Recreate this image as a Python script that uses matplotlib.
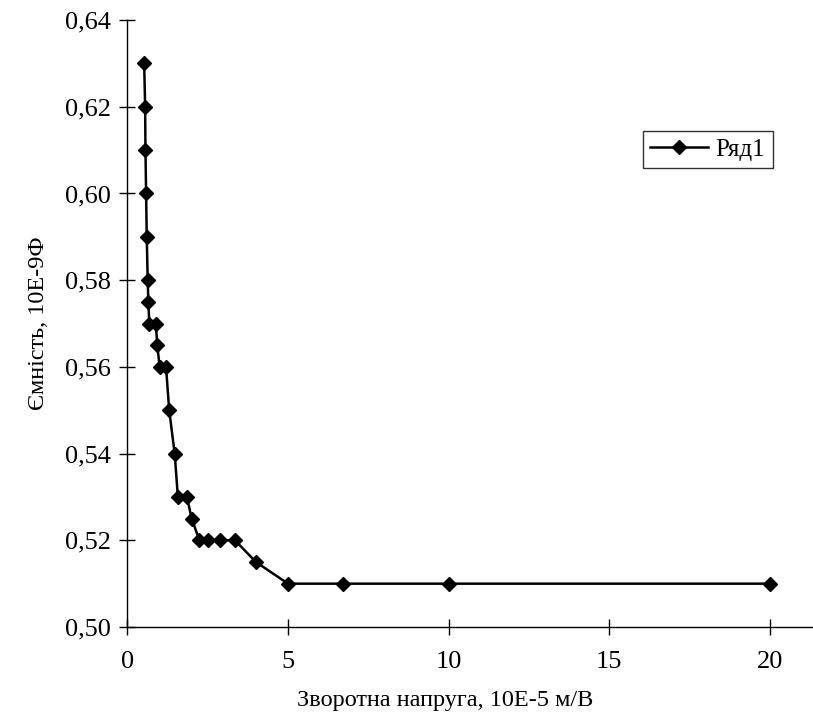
import matplotlib.pyplot as plt
from matplotlib.ticker import FuncFormatter

# Data
zvorotna = [0.52, 0.55, 0.56, 0.58, 0.60, 0.63, 0.65, 0.68, 0.88, 0.93, 1.0, 1.2,
            1.3, 1.47, 1.57, 1.85, 2.0, 2.24, 2.5, 2.88, 3.35, 4.0, 5.0, 6.7, 10, 20]
yemnist = [0.63, 0.62, 0.61, 0.60, 0.59, 0.58, 0.575, 0.57, 0.57, 0.565, 0.56, 0.56,
           0.55, 0.54, 0.53, 0.53, 0.525, 0.52, 0.52, 0.52, 0.52, 0.515, 0.51, 0.51, 0.51, 0.51]
x_ticks = [0, 5, 10, 15, 20]
y_ticks = [0.50, 0.52, 0.54, 0.56, 0.58, 0.60, 0.62, 0.64]

plt.rcParams['font.family'] = ['Liberation Serif', 'DejaVu Serif']

fig = plt.figure(figsize=(8.13, 7.18), dpi=100)
ax = fig.add_axes([0.1568, 0.1267, 0.8432, 0.8454])

ax.plot(zvorotna, yemnist, color='black', lw=1.8, marker='D', markersize=7.5, label='Ряд1')

ax.set_xlim(0, 21.35)
ax.set_ylim(0.50, 0.64)
ax.set_xticks(x_ticks)
ax.set_yticks(y_ticks)
ax.yaxis.set_major_formatter(FuncFormatter(lambda v, p: f'{v:.2f}'.replace('.', ',')))

for s in ['top', 'right']:
    ax.spines[s].set_visible(False)
for s in ['left', 'bottom']:
    ax.spines[s].set_linewidth(1.0)
ax.tick_params(direction='inout', length=12, width=1.0, labelsize=19)
ax.tick_params(axis='x', pad=11)
ax.tick_params(axis='y', pad=6)

ax.set_xlabel('Зворотна напруга, 10Е-5 м/В', fontsize=17.5)
ax.set_ylabel('Ємність, 10Е-9Ф', fontsize=17.5)
ax.xaxis.set_label_coords((445 - 127.5) / (813 * 0.8432), -0.104)
ax.yaxis.set_label_coords(-0.1145, 0.5)

leg = ax.legend(loc='upper left', bbox_to_anchor=(0.752, 0.818), fontsize=18,
                frameon=True, fancybox=False, borderpad=0.3, handlelength=2.3,
                handletextpad=0.3, borderaxespad=0)
leg.get_frame().set_edgecolor('black')
leg.get_frame().set_linewidth(1.0)

fig.savefig('out.png', dpi=100)
